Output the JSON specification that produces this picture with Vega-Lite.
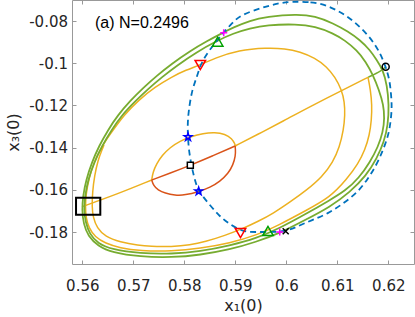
{
"$schema": "https://vega.github.io/schema/vega-lite/v6.json",
"width": 342, "height": 264,
"autosize": "none",
"padding": {"left": 72, "top": 0, "right": 1, "bottom": 53},
"config": {
 "view": {"stroke": "#999999", "strokeWidth": 1},
 "axis": {"grid": false, "domain": false, "labelFont": "DejaVu Sans", "labelFontSize": 15, "labelColor": "#262626", "tickColor": "#999999", "tickSize": -4, "tickWidth": 1, "titleFont": "DejaVu Sans", "titleFontSize": 16, "titleFontWeight": "normal", "titleColor": "#262626", "labelOverlap": false, "labelBound": false, "labelFlush": false}
},
"datasets": {
 "loops": [
  {"s":"go","i":0,"x":0.61896,"y":-0.10318},{"s":"go","i":1,"x":0.61975,"y":-0.11028},{"s":"go","i":2,"x":0.62014,"y":-0.11976},{"s":"go","i":3,"x":0.61994,"y":-0.12924},{"s":"go","i":4,"x":0.61916,"y":-0.13730},{"s":"go","i":5,"x":0.61779,"y":-0.14488},{"s":"go","i":6,"x":0.61563,"y":-0.15341},{"s":"go","i":7,"x":0.61249,"y":-0.16100},{"s":"go","i":8,"x":0.60857,"y":-0.16810},{"s":"go","i":9,"x":0.60367,"y":-0.17427},{"s":"go","i":10,"x":0.59877,"y":-0.18043},{"s":"go","i":11,"x":0.59406,"y":-0.18469},{"s":"go","i":12,"x":0.58896,"y":-0.18825},{"s":"go","i":13,"x":0.58308,"y":-0.19085},{"s":"go","i":14,"x":0.57759,"y":-0.19204},{"s":"go","i":15,"x":0.57131,"y":-0.19171},{"s":"go","i":16,"x":0.56582,"y":-0.18967},{"s":"go","i":17,"x":0.56308,"y":-0.18659},{"s":"go","i":18,"x":0.56112,"y":-0.18185},{"s":"go","i":19,"x":0.56024,"y":-0.17616},{"s":"go","i":20,"x":0.55994,"y":-0.16953},{"s":"go","i":21,"x":0.56014,"y":-0.16289},{"s":"go","i":22,"x":0.56073,"y":-0.15531},{"s":"go","i":23,"x":0.56190,"y":-0.14678},{"s":"go","i":24,"x":0.56328,"y":-0.13919},{"s":"go","i":25,"x":0.56504,"y":-0.13161},{"s":"go","i":26,"x":0.56700,"y":-0.12450},{"s":"go","i":27,"x":0.56935,"y":-0.11787},{"s":"go","i":28,"x":0.57190,"y":-0.11171},{"s":"go","i":29,"x":0.57465,"y":-0.10578},{"s":"go","i":30,"x":0.57759,"y":-0.10010},{"s":"go","i":31,"x":0.58112,"y":-0.09417},{"s":"go","i":32,"x":0.58445,"y":-0.08943},{"s":"go","i":33,"x":0.58765,"y":-0.08540},{"s":"go","i":34,"x":0.58961,"y":-0.08303},{"s":"go","i":35,"x":0.59288,"y":-0.07972},{"s":"go","i":36,"x":0.59616,"y":-0.07791},{"s":"go","i":37,"x":0.60204,"y":-0.07664},{"s":"go","i":38,"x":0.60563,"y":-0.07758},{"s":"go","i":39,"x":0.60922,"y":-0.08104},{"s":"go","i":40,"x":0.61210,"y":-0.08493},{"s":"go","i":41,"x":0.61445,"y":-0.08896},{"s":"go","i":42,"x":0.61641,"y":-0.09370},{"s":"go","i":43,"x":0.61773,"y":-0.09844},
  {"s":"gi","i":0,"x":0.61563,"y":-0.09938},{"s":"gi","i":1,"x":0.61700,"y":-0.10554},{"s":"gi","i":2,"x":0.61818,"y":-0.11265},{"s":"gi","i":3,"x":0.61906,"y":-0.11976},{"s":"gi","i":4,"x":0.61926,"y":-0.12592},{"s":"gi","i":5,"x":0.61896,"y":-0.13256},{"s":"gi","i":6,"x":0.61798,"y":-0.13967},{"s":"gi","i":7,"x":0.61641,"y":-0.14678},{"s":"gi","i":8,"x":0.61426,"y":-0.15436},{"s":"gi","i":9,"x":0.61151,"y":-0.16052},{"s":"gi","i":10,"x":0.60857,"y":-0.16479},{"s":"gi","i":11,"x":0.60367,"y":-0.17166},{"s":"gi","i":12,"x":0.59877,"y":-0.17806},{"s":"gi","i":13,"x":0.59406,"y":-0.18303},{"s":"gi","i":14,"x":0.58896,"y":-0.18635},{"s":"gi","i":15,"x":0.58308,"y":-0.18919},{"s":"gi","i":16,"x":0.57759,"y":-0.19038},{"s":"gi","i":17,"x":0.57131,"y":-0.19014},{"s":"gi","i":18,"x":0.56582,"y":-0.18825},{"s":"gi","i":19,"x":0.56308,"y":-0.18540},{"s":"gi","i":20,"x":0.56141,"y":-0.18090},{"s":"gi","i":21,"x":0.56063,"y":-0.17521},{"s":"gi","i":22,"x":0.56033,"y":-0.16953},{"s":"gi","i":23,"x":0.56053,"y":-0.16289},{"s":"gi","i":24,"x":0.56112,"y":-0.15531},{"s":"gi","i":25,"x":0.56229,"y":-0.14725},{"s":"gi","i":26,"x":0.56386,"y":-0.13919},{"s":"gi","i":27,"x":0.56573,"y":-0.13161},{"s":"gi","i":28,"x":0.56778,"y":-0.12450},{"s":"gi","i":29,"x":0.57033,"y":-0.11810},{"s":"gi","i":30,"x":0.57288,"y":-0.11218},{"s":"gi","i":31,"x":0.57563,"y":-0.10649},{"s":"gi","i":32,"x":0.57857,"y":-0.10104},{"s":"gi","i":33,"x":0.58243,"y":-0.09464},{"s":"gi","i":34,"x":0.58635,"y":-0.08943},{"s":"gi","i":35,"x":0.58961,"y":-0.08578},{"s":"gi","i":36,"x":0.59288,"y":-0.08351},{"s":"gi","i":37,"x":0.59616,"y":-0.08185},{"s":"gi","i":38,"x":0.60204,"y":-0.08137},{"s":"gi","i":39,"x":0.60563,"y":-0.08256},{"s":"gi","i":40,"x":0.60922,"y":-0.08578},{"s":"gi","i":41,"x":0.61151,"y":-0.08919},{"s":"gi","i":42,"x":0.61380,"y":-0.09370}
 ],
 "curves": [
  {"s":"gl","i":0,"x":0.61949,"y":-0.10161},{"s":"gl","i":1,"x":0.61863,"y":-0.10365},{"s":"gl","i":2,"x":0.61602,"y":-0.10664},
  {"s":"oc","i":0,"x":0.61602,"y":-0.10664},{"s":"oc","i":1,"x":0.61651,"y":-0.11265},{"s":"oc","i":2,"x":0.61680,"y":-0.11976},{"s":"oc","i":3,"x":0.61671,"y":-0.12687},{"s":"oc","i":4,"x":0.61631,"y":-0.13398},{"s":"oc","i":5,"x":0.61543,"y":-0.14109},{"s":"oc","i":6,"x":0.61406,"y":-0.14773},{"s":"oc","i":7,"x":0.61190,"y":-0.15483},{"s":"oc","i":8,"x":0.60857,"y":-0.16360},{"s":"oc","i":9,"x":0.60367,"y":-0.17000},{"s":"oc","i":10,"x":0.59877,"y":-0.17640},{"s":"oc","i":11,"x":0.59406,"y":-0.18161},{"s":"oc","i":12,"x":0.58896,"y":-0.18517},{"s":"oc","i":13,"x":0.58308,"y":-0.18777},{"s":"oc","i":14,"x":0.57759,"y":-0.18905},{"s":"oc","i":15,"x":0.57131,"y":-0.18886},{"s":"oc","i":16,"x":0.56739,"y":-0.18754},{"s":"oc","i":17,"x":0.56451,"y":-0.18531},{"s":"oc","i":18,"x":0.56249,"y":-0.18232},{"s":"oc","i":19,"x":0.56131,"y":-0.17806},{"s":"oc","i":20,"x":0.56073,"y":-0.17332},{"s":"oc","i":21,"x":0.56059,"y":-0.16796},{"s":"oc","i":22,"x":0.56073,"y":-0.16194},{"s":"oc","i":23,"x":0.56131,"y":-0.15436},{"s":"oc","i":24,"x":0.56229,"y":-0.14678},{"s":"oc","i":25,"x":0.56347,"y":-0.14109},{"s":"oc","i":26,"x":0.56465,"y":-0.13635},{"s":"oc","i":27,"x":0.56582,"y":-0.13242},{"s":"oc","i":28,"x":0.56818,"y":-0.12450},{"s":"oc","i":29,"x":0.57106,"y":-0.11739},{"s":"oc","i":30,"x":0.57426,"y":-0.11123},{"s":"oc","i":31,"x":0.57759,"y":-0.10635},{"s":"oc","i":32,"x":0.58033,"y":-0.10318},{"s":"oc","i":33,"x":0.58308,"y":-0.10081},{"s":"oc","i":34,"x":0.58602,"y":-0.09749},{"s":"oc","i":35,"x":0.59067,"y":-0.09370},{"s":"oc","i":36,"x":0.59616,"y":-0.09261},{"s":"oc","i":37,"x":0.59975,"y":-0.09299},{"s":"oc","i":38,"x":0.60269,"y":-0.09450},{"s":"oc","i":39,"x":0.60563,"y":-0.09749},{"s":"oc","i":40,"x":0.60792,"y":-0.10161},{"s":"oc","i":41,"x":0.60955,"y":-0.10649},{"s":"oc","i":42,"x":0.61086,"y":-0.11265},{"s":"oc","i":43,"x":0.61141,"y":-0.11834},{"s":"oc","i":44,"x":0.61151,"y":-0.12450},{"s":"oc","i":45,"x":0.61122,"y":-0.13161},{"s":"oc","i":46,"x":0.61043,"y":-0.13967},{"s":"oc","i":47,"x":0.60916,"y":-0.14678},{"s":"oc","i":48,"x":0.60700,"y":-0.15389},{"s":"oc","i":49,"x":0.60400,"y":-0.16005},{"s":"oc","i":50,"x":0.60073,"y":-0.16573},{"s":"oc","i":51,"x":0.59745,"y":-0.17109},{"s":"oc","i":52,"x":0.59445,"y":-0.17498},{"s":"oc","i":53,"x":0.59157,"y":-0.17820},{"s":"oc","i":54,"x":0.58798,"y":-0.18161},{"s":"oc","i":55,"x":0.58406,"y":-0.18460},{"s":"oc","i":56,"x":0.58112,"y":-0.18611},{"s":"oc","i":57,"x":0.57759,"y":-0.18692},{"s":"oc","i":58,"x":0.57327,"y":-0.18683},{"s":"oc","i":59,"x":0.57106,"y":-0.18635},{"s":"oc","i":60,"x":0.56739,"y":-0.18469},{"s":"oc","i":61,"x":0.56451,"y":-0.18218},{"s":"oc","i":62,"x":0.56288,"y":-0.17806},{"s":"oc","i":63,"x":0.56210,"y":-0.17284},{"s":"oc","i":64,"x":0.56190,"y":-0.16796},{"s":"oc","i":65,"x":0.56200,"y":-0.16100},{"s":"oc","i":66,"x":0.56239,"y":-0.15341},{"s":"oc","i":67,"x":0.56308,"y":-0.14583},{"s":"oc","i":68,"x":0.56386,"y":-0.14109},{"s":"oc","i":69,"x":0.56426,"y":-0.13872},
  {"s":"ol1","i":0,"x":0.55994,"y":-0.16796},{"s":"ol1","i":1,"x":0.56680,"y":-0.16204},{"s":"ol1","i":2,"x":0.57361,"y":-0.15531},
  {"s":"ol2","i":0,"x":0.58994,"y":-0.13919},{"s":"ol2","i":1,"x":0.59543,"y":-0.13242},{"s":"ol2","i":2,"x":0.59994,"y":-0.12664},{"s":"ol2","i":3,"x":0.60459,"y":-0.12057},{"s":"ol2","i":4,"x":0.61112,"y":-0.11265},{"s":"ol2","i":5,"x":0.61602,"y":-0.10664},
  {"s":"oe","i":0,"x":0.57361,"y":-0.15531},{"s":"oe","i":1,"x":0.57386,"y":-0.15152},{"s":"oe","i":2,"x":0.57455,"y":-0.14773},{"s":"oe","i":3,"x":0.57563,"y":-0.14370},{"s":"oe","i":4,"x":0.57720,"y":-0.13991},{"s":"oe","i":5,"x":0.57916,"y":-0.13683},{"s":"oe","i":6,"x":0.58131,"y":-0.13469},{"s":"oe","i":7,"x":0.58367,"y":-0.13318},{"s":"oe","i":8,"x":0.58602,"y":-0.13270},{"s":"oe","i":9,"x":0.58798,"y":-0.13351},{"s":"oe","i":10,"x":0.58935,"y":-0.13564},{"s":"oe","i":11,"x":0.58994,"y":-0.13825},{"s":"oe","i":12,"x":0.59004,"y":-0.13967},
  {"s":"re","i":0,"x":0.57361,"y":-0.15531},{"s":"re","i":1,"x":0.57396,"y":-0.15792},{"s":"re","i":2,"x":0.57484,"y":-0.16005},{"s":"re","i":3,"x":0.57622,"y":-0.16161},{"s":"re","i":4,"x":0.57818,"y":-0.16256},{"s":"re","i":5,"x":0.58014,"y":-0.16251},{"s":"re","i":6,"x":0.58294,"y":-0.16076},{"s":"re","i":7,"x":0.58504,"y":-0.15886},{"s":"re","i":8,"x":0.58700,"y":-0.15602},{"s":"re","i":9,"x":0.58863,"y":-0.15213},{"s":"re","i":10,"x":0.58955,"y":-0.14820},{"s":"re","i":11,"x":0.59004,"y":-0.14393},{"s":"re","i":12,"x":0.59004,"y":-0.14062},{"s":"re","i":13,"x":0.58994,"y":-0.13919},
  {"s":"rl","i":0,"x":0.57361,"y":-0.15531},{"s":"rl","i":1,"x":0.57720,"y":-0.15209},{"s":"rl","i":2,"x":0.58118,"y":-0.14834},{"s":"rl","i":3,"x":0.58543,"y":-0.14403},{"s":"rl","i":4,"x":0.58994,"y":-0.13919}
 ],
 "dashed": [
  {"i":0,"x":0.60098,"y":-0.0707},{"i":1,"x":0.60490,"y":-0.0709},{"i":2,"x":0.60784,"y":-0.07237},{"i":3,"x":0.61112,"y":-0.07630},{"i":4,"x":0.61373,"y":-0.08104},{"i":5,"x":0.61635,"y":-0.08739},{"i":6,"x":0.61831,"y":-0.09450},{"i":7,"x":0.61949,"y":-0.10161},{"i":8,"x":0.62027,"y":-0.10791},{"i":9,"x":0.62059,"y":-0.11583},{"i":10,"x":0.62073,"y":-0.12213},{"i":11,"x":0.62024,"y":-0.13161},{"i":12,"x":0.61975,"y":-0.13588},{"i":13,"x":0.61896,"y":-0.14123},{"i":14,"x":0.61765,"y":-0.14834},{"i":15,"x":0.61602,"y":-0.15469},{"i":16,"x":0.61406,"y":-0.16100},{"i":17,"x":0.61112,"y":-0.16654},{"i":18,"x":0.60818,"y":-0.17128},{"i":19,"x":0.60490,"y":-0.17441},{"i":20,"x":0.60196,"y":-0.17758},{"i":21,"x":0.59988,"y":-0.17962},{"i":22,"x":0.59739,"y":-0.17995},{"i":23,"x":0.59412,"y":-0.17995},{"i":24,"x":0.59151,"y":-0.17995},{"i":25,"x":0.58871,"y":-0.17602},{"i":26,"x":0.58675,"y":-0.17204},{"i":27,"x":0.58478,"y":-0.16654},{"i":28,"x":0.58282,"y":-0.16066},{"i":29,"x":0.58216,"y":-0.15626},{"i":30,"x":0.58137,"y":-0.14834},{"i":31,"x":0.58086,"y":-0.14047},{"i":32,"x":0.58073,"y":-0.13493},{"i":33,"x":0.58063,"y":-0.12924},{"i":34,"x":0.58086,"y":-0.12213},{"i":35,"x":0.58151,"y":-0.11265},{"i":36,"x":0.58249,"y":-0.10635},{"i":37,"x":0.58314,"y":-0.10081},{"i":38,"x":0.58445,"y":-0.09526},{"i":39,"x":0.58635,"y":-0.08943},{"i":40,"x":0.58769,"y":-0.08540},{"i":41,"x":0.58935,"y":-0.08104},{"i":42,"x":0.59098,"y":-0.07711},{"i":43,"x":0.59543,"y":-0.07346},{"i":44,"x":0.59837,"y":-0.07156}
 ],
 "markers": [
  {"m":"o","x":0.61949,"y":-0.10161},
  {"m":"p","x":0.58773,"y":-0.08550},{"m":"p","x":0.59871,"y":-0.17995},
  {"m":"x","x":0.59988,"y":-0.17962},
  {"m":"tu","x":0.58655,"y":-0.08976},{"m":"tu","x":0.59641,"y":-0.17948},
  {"m":"td","x":0.58314,"y":-0.10081},{"m":"td","x":0.59102,"y":-0.18043},
  {"m":"st","x":0.58073,"y":-0.13493},{"m":"st","x":0.58282,"y":-0.16066}
 ],
 "square": [{"x":0.58118,"y":-0.14834}],
 "box": [{"x":0.55877,"x2":0.56353,"y":-0.16370,"y2":-0.17175}],
 "note": [{"x":0.56249,"y":-0.08341,"t":"(a) N=0.2496"}]
},
"layer": [
 {
  "encoding": {
   "x": {"field": "x", "type": "quantitative", "scale": {"domain": [0.55798, 0.62504], "nice": false, "zero": false},
     "axis": {"orient": "bottom", "values": [0.56,0.57,0.58,0.59,0.6,0.61,0.62], "labelExpr": "toString(datum.value)", "labelPadding": 18.5, "title": "x₁(0)", "titleX": 171, "titleY": 46, "titleBaseline": "alphabetic", "titleAlign": "center", "titleAnchor": null}},
   "y": {"field": "y", "type": "quantitative", "scale": {"domain": [-0.19512, -0.07], "nice": false, "zero": false},
     "axis": {"orient": "left", "values": [-0.18,-0.16,-0.14,-0.12,-0.1,-0.08], "labelExpr": "toString(datum.value)", "labelPadding": 8.5, "title": "x₃(0)", "titleX": -54, "titleY": 132, "titleAngle": -90, "titleBaseline": "alphabetic", "titleAlign": "center", "titleAnchor": null}}
  },
  "layer": [
   {"data": {"name": "curves"}, "mark": {"type": "line", "interpolate": "basis", "strokeWidth": 1.5},
    "encoding": {
     "color": {"field": "s", "type": "nominal", "legend": null, "scale": {"domain": ["gl","oc","ol1","ol2","oe","re","rl"], "range": ["#77AC30","#EDB120","#EDB120","#EDB120","#EDB120","#D95319","#D95319"]}},
     "order": {"field": "i", "type": "quantitative"}
    }},
   {"data": {"name": "loops"}, "mark": {"type": "line", "interpolate": "basis-closed", "color": "#77AC30", "strokeWidth": 1.8},
    "encoding": {"detail": {"field": "s"}, "order": {"field": "i", "type": "quantitative"}}},
   {"data": {"name": "dashed"}, "mark": {"type": "line", "interpolate": "basis-closed", "color": "#0072BD", "strokeWidth": 1.8, "strokeDash": [6, 4]},
    "encoding": {"order": {"field": "i", "type": "quantitative"}}},
   {"data": {"name": "box"}, "mark": {"type": "rect", "fill": null, "fillOpacity": 0, "stroke": "#000000", "strokeWidth": 2},
    "encoding": {"x2": {"field": "x2"}, "y2": {"field": "y2"}}},
   {"data": {"name": "square"}, "mark": {"type": "square", "fill": "#ffffff", "stroke": "#000000", "strokeWidth": 1.5, "size": 36, "opacity": 1}},
   {"data": {"name": "markers"}, "transform": [{"filter": "datum.m == 'o'"}], "mark": {"type": "point", "shape": "circle", "filled": false, "color": "#000000", "strokeWidth": 1.5, "size": 49, "opacity": 1}},
   {"data": {"name": "markers"}, "transform": [{"filter": "datum.m == 'p'"}], "mark": {"type": "point", "shape": "M-1,0H1M0,-1V1", "filled": false, "color": "#ff00ff", "strokeWidth": 1.5, "size": 49, "opacity": 1}},
   {"data": {"name": "markers"}, "transform": [{"filter": "datum.m == 'x'"}], "mark": {"type": "point", "shape": "M-1,-1L1,1M-1,1L1,-1", "filled": false, "color": "#000000", "strokeWidth": 1.5, "size": 36, "opacity": 1}},
   {"data": {"name": "markers"}, "transform": [{"filter": "datum.m == 'tu'"}], "mark": {"type": "point", "shape": "triangle-up", "filled": false, "color": "#00a000", "strokeWidth": 1.5, "size": 110, "opacity": 1}},
   {"data": {"name": "markers"}, "transform": [{"filter": "datum.m == 'td'"}], "mark": {"type": "point", "shape": "triangle-down", "filled": false, "color": "#ff0000", "strokeWidth": 1.5, "size": 110, "opacity": 1}},
   {"data": {"name": "markers"}, "transform": [{"filter": "datum.m == 'st'"}], "mark": {"type": "point", "shape": "M0,-1L0.2245,-0.309L0.951,-0.309L0.363,0.118L0.588,0.809L0,0.382L-0.588,0.809L-0.363,0.118L-0.951,-0.309L-0.2245,-0.309Z", "filled": false, "color": "#0000ff", "strokeWidth": 1.5, "size": 64, "opacity": 1}},
   {"data": {"name": "note"}, "mark": {"type": "text", "align": "left", "baseline": "alphabetic", "font": "Liberation Sans", "fontSize": 16, "color": "#000000"},
    "encoding": {"text": {"field": "t"}}}
  ]
 },
 {
  "data": {"name": "square"},
  "mark": {"type": "point", "opacity": 0},
  "encoding": {
   "x": {"field": "x", "type": "quantitative", "scale": {"domain": [0.55798, 0.62504], "nice": false, "zero": false},
     "axis": {"orient": "top", "values": [0.56,0.57,0.58,0.59,0.6,0.61,0.62], "labels": false, "title": null}},
   "y": {"field": "y", "type": "quantitative", "scale": {"domain": [-0.19512, -0.07], "nice": false, "zero": false},
     "axis": {"orient": "right", "values": [-0.18,-0.16,-0.14,-0.12,-0.1,-0.08], "labels": false, "title": null}}
  }
 }
],
"resolve": {"axis": {"x": "independent", "y": "independent"}}
}
